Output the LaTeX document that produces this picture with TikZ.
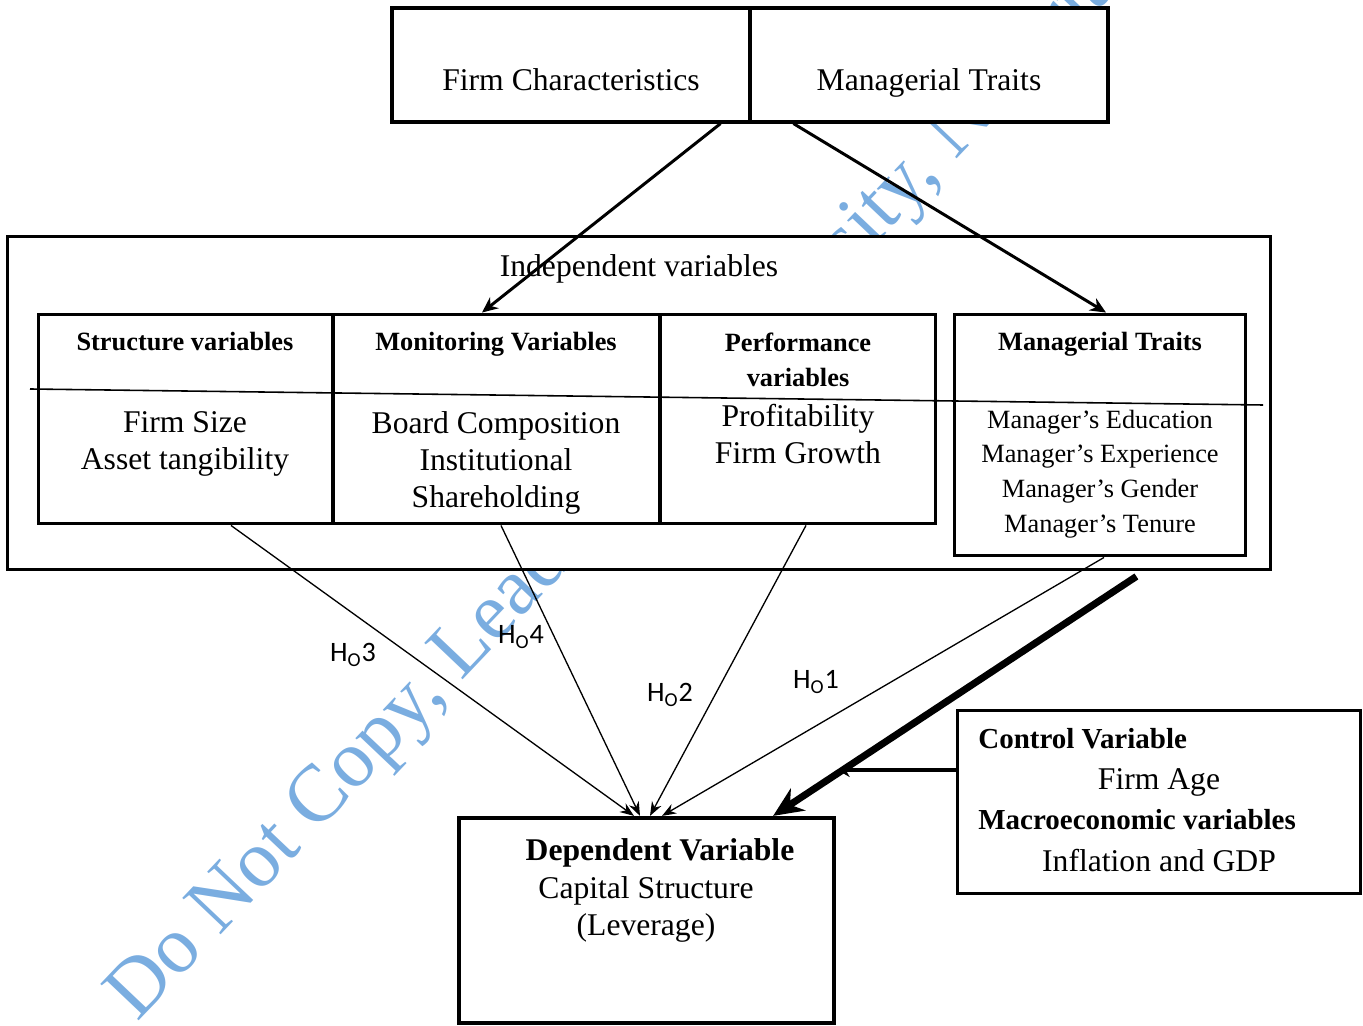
\documentclass[tikz,border=0pt]{standalone}
\usepackage{fontspec}
\setmainfont{Liberation Serif}
\newfontfamily\hofont{Carlito}
\usetikzlibrary{arrows.meta, calc}

\definecolor{markblue}{RGB}{122,173,224}

\begin{document}
\begin{tikzpicture}[x=0.02cm, y=-0.02cm,
    box/.style={draw, rectangle, fill=white, line width=1.7pt, inner sep=0pt},
    head/.style={font=\fontsize{15}{20}\selectfont\bfseries, align=center},
    item/.style={font=\fontsize{18}{21}\selectfont, align=center},
    hyp/.style={font=\hofont\fontsize{16}{18}\selectfont},
    link/.style={-{Stealth[length=8pt, width=6pt]}, line width=0.75pt}]
    \useasboundingbox (0,0) rectangle (1363,1026);
    \clip (0,0) rectangle (1363,1026);

    % Watermark (behind the boxes)
    \node[anchor=base west, rotate=46.5, inner sep=0pt, text=markblue,
          font=\fontsize{46}{46}\selectfont] (mark) at (137,1023)
          {Do Not Copy, Lead City University, Nigeria};

    % Top boxes
    \node[box, line width=1.8pt, minimum width=7.16cm, minimum height=2.28cm] (firm) at (571,65) {};
    \node[box, line width=1.8pt, minimum width=7.16cm, minimum height=2.28cm] (mgr) at (929,65) {};
    \node[item, anchor=base] (firmlab) at (571,91) {Firm Characteristics};
    \node[item, anchor=base] (mgrlab) at (929,91) {Managerial Traits};

    % Independent variables
    \node[box, minimum width=25.28cm, minimum height=6.68cm] (indep) at (639,403) {};
    \node[item, anchor=base] (indeplab) at (639,277) {Independent variables};

    \node[box, minimum width=5.9cm, minimum height=4.2cm] (struct) at (185.5,419) {};
    \node[box, minimum width=6.54cm, minimum height=4.2cm] (monit) at (496.5,419) {};
    \node[box, minimum width=5.52cm, minimum height=4.2cm] (perf) at (798,419) {};
    \node[box, minimum width=5.84cm, minimum height=4.84cm] (traits) at (1100,435) {};
    \draw[line width=0.9pt] (30,389) -- (1263,405);

    \node[head, anchor=base] (structhead) at (185,351) {Structure variables};
    \node[head, anchor=base] (monithead) at (496,351) {Monitoring Variables};
    \node[head] (perfhead) at (798,360) {Performance\\variables};
    \node[head, anchor=base] (traitshead) at (1100,351) {Managerial Traits};

    \node[item] (structitems) at (185,444) {Firm Size\\Asset tangibility};
    \node[item] (monititems) at (496,463) {Board Composition\\Institutional\\Shareholding};
    \node[item] (perfitems) at (798,434) {Profitability\\Firm Growth};
    \node[font=\fontsize{15}{19.8}\selectfont, align=center] (traititems) at (1100,474)
        {Manager’s Education\\Manager’s Experience\\Manager’s Gender\\Manager’s Tenure};

    % Dependent variable
    \node[box, line width=2.4pt, minimum width=7.5cm, minimum height=4.1cm] (dep) at (646.5,920.5) {};
    \node[font=\fontsize{18}{21}\selectfont\bfseries, anchor=base] (deptitle) at (660,861) {Dependent Variable};
    \node[item] (deptext) at (646,909) {Capital Structure\\(Leverage)};

    % Control variables
    \node[box, minimum width=8.08cm, minimum height=3.68cm] (ctrl) at (1159,802) {};
    \node[anchor=west, inner sep=0pt, font=\fontsize{16.5}{20}\selectfont\bfseries] (ctrlhead) at (978,739) {Control Variable};
    \node[item, anchor=base] (ctrlage) at (1159,790) {Firm Age};
    \node[anchor=west, inner sep=0pt, font=\fontsize{16.5}{20}\selectfont\bfseries] (macrohead) at (978,820) {Macroeconomic variables};
    \node[item, anchor=base] (macroitems) at (1159,871) {Inflation and GDP};

    % Arrows from the top
    \draw[-{Stealth[length=9pt, width=8pt]}, line width=1.7pt] ([xshift=-0.62cm]firm.south east) -- ([xshift=-0.29cm]monit.north);
    \draw[-{Stealth[length=9pt, width=8pt]}, line width=1.7pt] ([xshift=0.9cm]mgr.south west) -- ([xshift=0.12cm]traits.north);

    % Hypotheses
    \draw[link] ([xshift=0.91cm]struct.south) -- ([xshift=-0.25cm]dep.north);
    \draw[link] ([xshift=0.09cm]monit.south) -- ([xshift=-0.13cm]dep.north);
    \draw[link] ([xshift=0.16cm]perf.south) -- ([xshift=0.07cm]dep.north);
    \draw[link] ([xshift=0.08cm]traits.south) -- ([xshift=0.31cm]dep.north);
    \node[hyp] (h3) at (353,655) {H\textsubscript{O}3};
    \node[hyp] (h4) at (521,637) {H\textsubscript{O}4};
    \node[hyp] (h2) at (670,695) {H\textsubscript{O}2};
    \node[hyp] (h1) at (816,682) {H\textsubscript{O}1};

    % Control path
    \coordinate (thickstart) at ([xshift=-2.72cm, yshift=-0.1cm]indep.south east);
    \draw[-{Stealth[length=17pt, width=15pt]}, line width=4pt] (thickstart) -- ([xshift=-1.26cm]dep.north east) coordinate[pos=0.823] (joint);
    \coordinate (ctrlout) at ([yshift=0.64cm]ctrl.west);
    \draw[-{Stealth[length=7pt, width=8pt]}, line width=2.2pt] (ctrlout) -- (ctrlout -| joint);
\end{tikzpicture}
\end{document}
